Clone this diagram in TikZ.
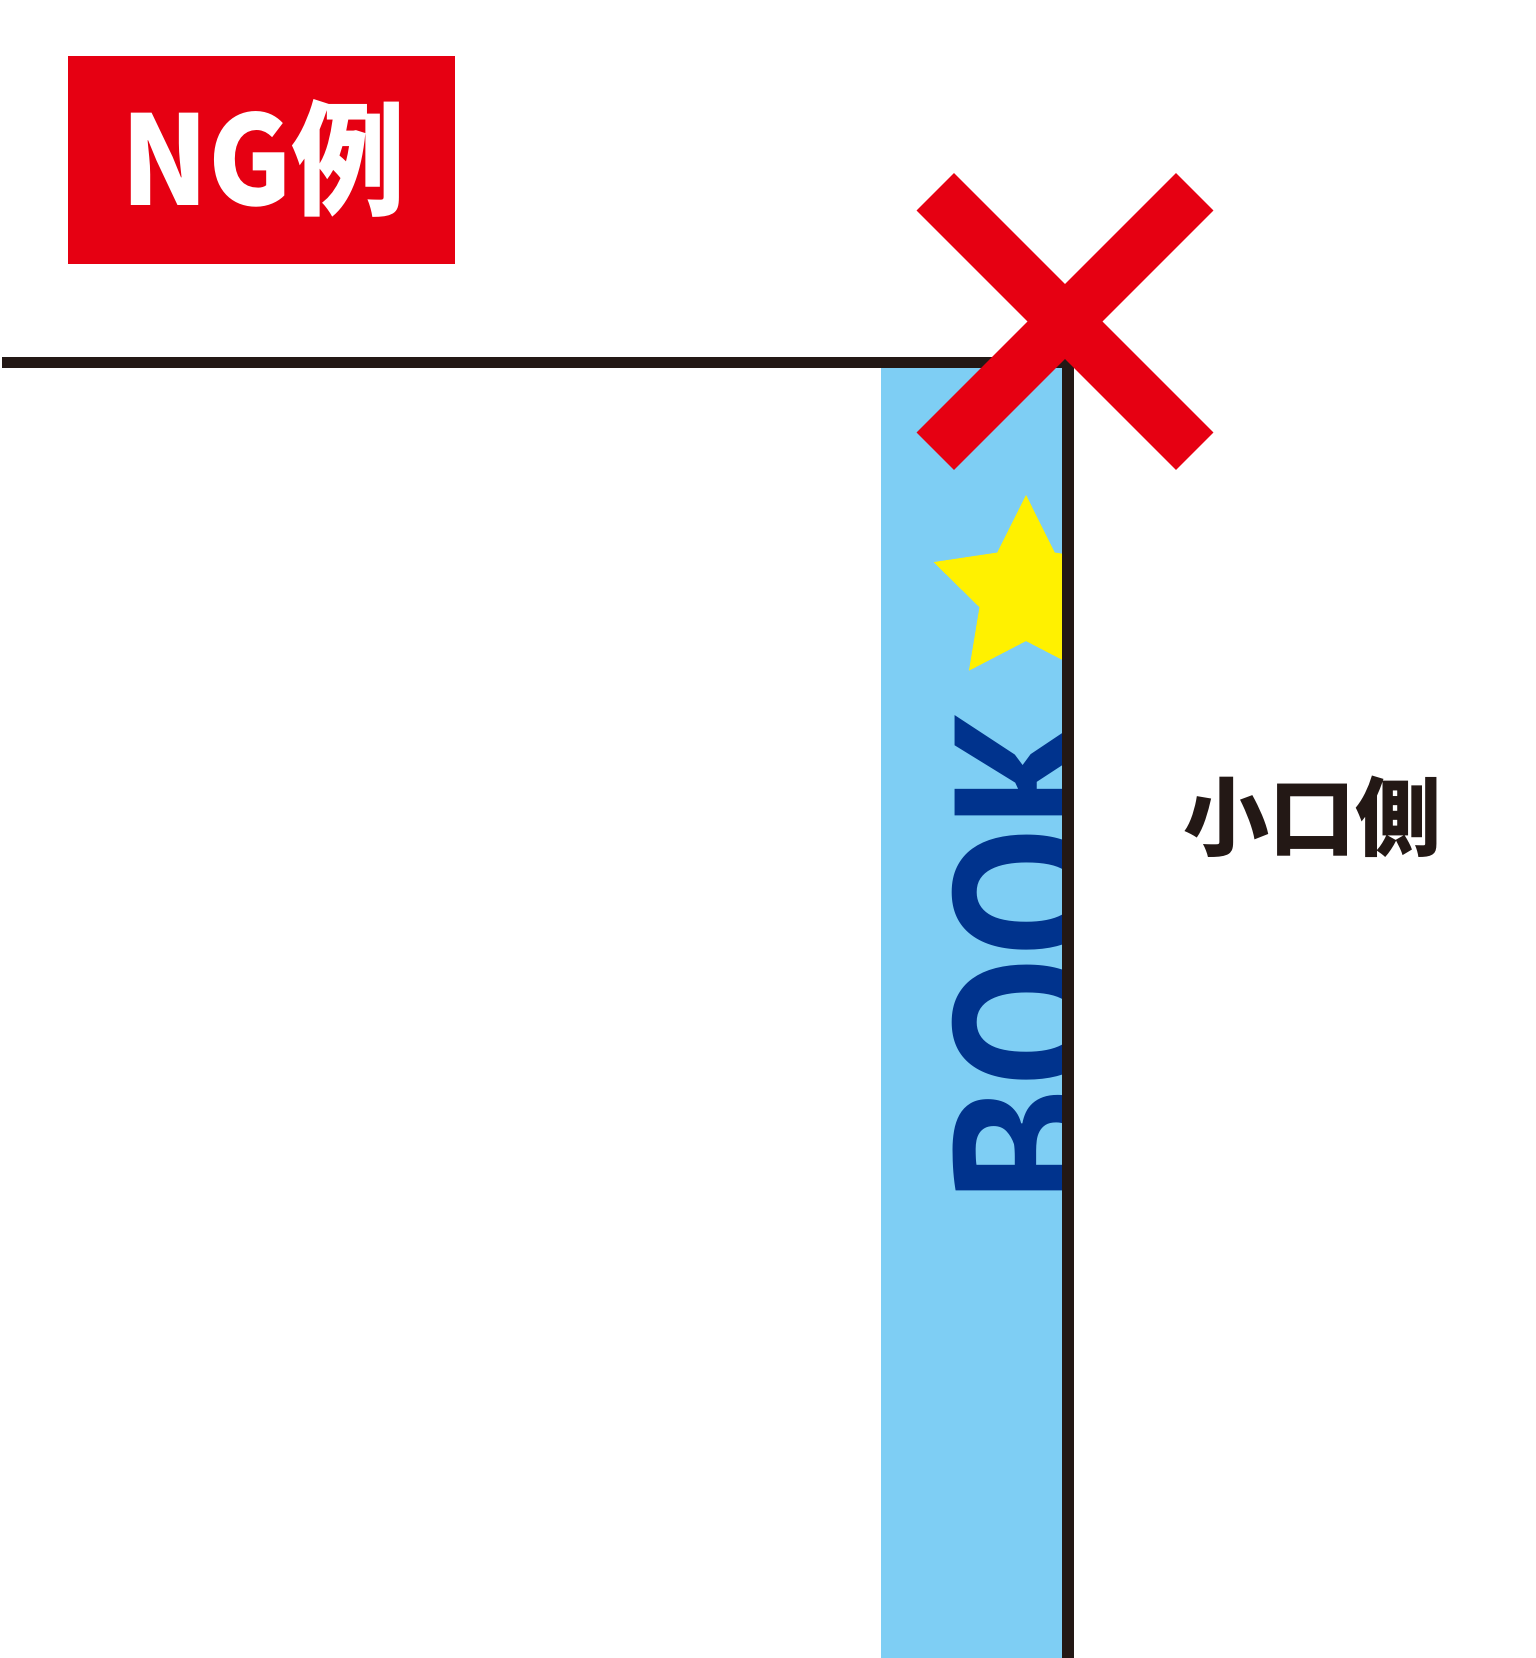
\documentclass[tikz,border=0pt]{standalone}
\usepackage{fontspec}
\usepackage{graphicx}
\newfontfamily\cjk{Noto Sans CJK JP}
\newfontfamily\bookfont{PT Sans}
\definecolor{ngred}{HTML}{E60012}
\definecolor{bandblue}{HTML}{7ECEF4}
\definecolor{bookblue}{HTML}{00338D}
\definecolor{staryellow}{HTML}{FFF100}
\definecolor{inkblack}{HTML}{231815}
\tikzset{
  edgeline/.style={draw=inkblack, line width=11.5pt, line join=miter},
  crossbar/.style={draw=ngred, line width=53pt},
  plain/.style={inner sep=0pt, outer sep=0pt}
}
\begin{document}
\begin{tikzpicture}[x=1pt,y=-1pt]
\useasboundingbox (0,0) rectangle (1536,1658);
\fill[white] (0,0) rectangle (1536,1658);
% NG label
\fill[ngred] (67.7,56) rectangle (455,264.3);
\node[plain, anchor=base, text=white, xscale=0.92, font={\cjk\bfseries\fontsize{124pt}{124pt}\selectfont}] (ng) at (263.5,205) {NG例};
% blue band
\coordinate (bandtl) at (880.6,366);
\coordinate (bandbr) at (1062.5,1660);
\fill[bandblue] (bandtl) rectangle (bandbr);
\begin{scope}
  \clip (bandtl) rectangle (bandbr);
  \coordinate (starc) at (1026,592.1);
  \fill[staryellow] ([shift={(0,-97.1)}]starc) -- ([shift={(28.74,-39.56)}]starc)
    -- ([shift={(92.35,-30.0)}]starc) -- ([shift={(46.51,15.11)}]starc)
    -- ([shift={(57.07,78.56)}]starc) -- ([shift={(0,48.9)}]starc)
    -- ([shift={(-57.07,78.56)}]starc) -- ([shift={(-46.51,15.11)}]starc)
    -- ([shift={(-92.35,-30.0)}]starc) -- ([shift={(-28.74,-39.56)}]starc) -- cycle;
  \node[plain, rotate=90, anchor=north west, text=bookblue] (book) at (951.7,1202)
    {\resizebox{494pt}{146pt}{\bookfont\bfseries BOOK}};
\end{scope}
% trim lines
\coordinate (lineL) at (2,362.5);
\coordinate (corner) at (1067.8,362.5);
\coordinate (lineB) at (1067.8,1662);
\draw[edgeline] (lineL) -- (corner) -- (lineB);
% red cross
\coordinate (xc) at (1065,321.5);
\draw[crossbar] ([shift={(-129.7,-129.7)}]xc) -- ([shift={(129.7,129.7)}]xc);
\draw[crossbar] ([shift={(129.7,-129.7)}]xc) -- ([shift={(-129.7,129.7)}]xc);
% side label
\node[plain, text=inkblack, font={\cjk\bfseries\fontsize{86pt}{86pt}\selectfont}] (koguchi) at (1312.5,817) {小口側};
\end{tikzpicture}
\end{document}
